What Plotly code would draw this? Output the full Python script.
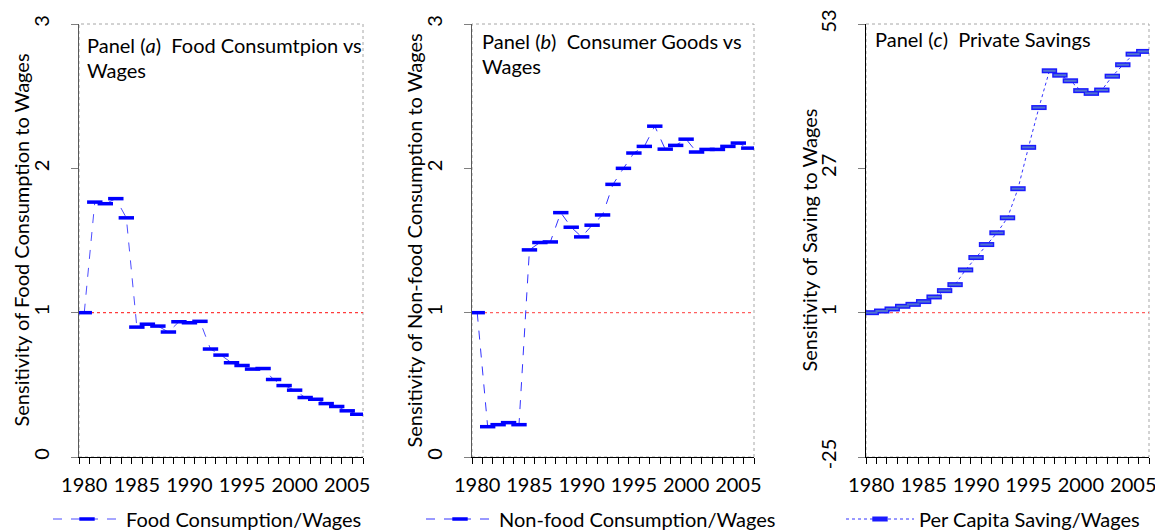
import plotly.graph_objects as go

years = list(range(1980, 2007))
food = [1.00, 1.766, 1.755, 1.79, 1.657, 0.90, 0.92, 0.907, 0.866, 0.937, 0.93, 0.94,
        0.748, 0.706, 0.653, 0.634, 0.609, 0.613, 0.537, 0.495, 0.463, 0.412, 0.40,
        0.37, 0.35, 0.32, 0.296]
nonfood = [1.00, 0.21, 0.224, 0.238, 0.224, 1.435, 1.486, 1.49, 1.693, 1.592, 1.525,
           1.606, 1.677, 1.889, 2.00, 2.106, 2.152, 2.292, 2.133, 2.159, 2.202, 2.113,
           2.131, 2.131, 2.152, 2.175, 2.14]
saving = [1.0, 1.3, 1.67, 2.15, 2.5, 3.0, 3.83, 4.97, 6.05, 8.7, 10.93, 13.27, 15.39,
          18.09, 23.33, 30.78, 37.95, 44.57, 43.78, 42.77, 41.0, 40.5, 41.1, 43.6,
          45.66, 47.57, 48.06]
tick_years = [1980, 1985, 1990, 1995, 2000, 2005]
minor_ticks = [y - 0.5 for y in years] + [years[-1] + 0.5]

FONT = "Lato"
FS = 20
W, H = 1155, 531

doms_x = [(79 / W, 363 / W), (472 / W, 754 / W), (866 / W, 1149 / W)]
dom_y = (74 / H, 507 / H)

fig = go.Figure()

# Panel a
fig.add_trace(go.Scatter(
    x=years, y=food, mode="lines+markers", name="Food Consumption/Wages",
    line=dict(color="#4d4dff", width=1, dash="dash"),
    marker=dict(symbol="line-ew", size=11, line=dict(width=3.5, color="#0000ff")),
    xaxis="x", yaxis="y", legend="legend"))
# Panel b
fig.add_trace(go.Scatter(
    x=years, y=nonfood, mode="lines+markers", name="Non-food Consumption/Wages",
    line=dict(color="#3333ff", width=1, dash="dash"),
    marker=dict(symbol="line-ew", size=11, line=dict(width=3.5, color="#0000ff")),
    xaxis="x2", yaxis="y2", legend="legend2"))
# Panel c
fig.add_trace(go.Scatter(
    x=years, y=saving, mode="lines+markers", name="Per Capita Saving/Wages",
    line=dict(color="#3333ff", width=1, dash="dot"),
    marker=dict(symbol="line-ew", size=11, line=dict(width=5, color="#1a1aff")),
    xaxis="x3", yaxis="y3", legend="legend3"))
fig.add_trace(go.Scatter(
    x=years, y=saving, mode="markers", showlegend=False, hoverinfo="skip",
    marker=dict(symbol="line-ew", size=9, line=dict(width=2, color="#4f72d0")),
    xaxis="x3", yaxis="y3"))

axis_font = dict(family=FONT, size=FS, color="#000000")

def xaxis_cfg(i):
    return dict(
        domain=list(doms_x[i]), anchor=["y", "y2", "y3"][i], automargin=False,
        range=[1979.5, 2006.5], tickmode="array", tickvals=tick_years,
        ticktext=[str(t) for t in tick_years], ticks="", ticklabelstandoff=10,
        ticklabeloverflow="allow",
        showline=True, linecolor="#000000", linewidth=1, showgrid=False, zeroline=False,
        tickfont=axis_font,
        minor=dict(tickvals=minor_ticks, ticks="outside", ticklen=6, tickcolor="#000000",
                   tickwidth=1, showgrid=False),
    )

def yaxis_cfg(i, rng, vals, lc):
    return dict(
        domain=list(dom_y), anchor=["x", "x2", "x3"][i], range=rng, automargin=False,
        tickmode="array", tickvals=vals, ticktext=[str(v) for v in vals],
        ticks="outside", ticklen=7, tickcolor="#7f7f7f", tickangle=-90,
        ticklabelstandoff=14, ticklabeloverflow="allow",
        showline=True, linecolor=lc, linewidth=1.3,
        showgrid=False, zeroline=False, tickfont=axis_font,
    )

fig.update_layout(
    width=W, height=H, margin=dict(l=0, r=0, t=0, b=0, autoexpand=False),
    paper_bgcolor="white", plot_bgcolor="white",
    font=dict(family=FONT, size=FS, color="#000000"),
    xaxis=xaxis_cfg(0), xaxis2=xaxis_cfg(1), xaxis3=xaxis_cfg(2),
    yaxis=yaxis_cfg(0, [0, 3], [0, 1, 2, 3], "#595959"),
    yaxis2=yaxis_cfg(1, [0, 3], [0, 1, 2, 3], "#595959"),
    yaxis3=yaxis_cfg(2, [-25, 53], [-25, 1, 27, 53], "#000000"),
)

leg_common = dict(orientation="h", font=dict(family=FONT, size=FS, color="#000000"),
                  bgcolor="rgba(0,0,0,0)", yanchor="middle", xanchor="left",
                  itemwidth=68, y=12 / H)
fig.update_layout(
    legend=dict(x=48 / W, **leg_common),
    legend2=dict(x=421 / W, **leg_common),
    legend3=dict(x=841 / W, **leg_common),
)

shapes = []
for i, (xr, yr) in enumerate([("x", "y"), ("x2", "y2"), ("x3", "y3")]):
    shapes.append(dict(type="rect", xref=f"{xr} domain", yref=f"{yr} domain",
                       x0=0, x1=1, y0=0, y1=1, layer="below",
                       line=dict(color="#a6a6a6", width=1, dash="dot")))
    shapes.append(dict(type="line", xref=f"{xr} domain", yref=yr, x0=0, x1=1, y0=1, y1=1,
                       layer="below",
                       line=dict(color="#ff3b3b" if i == 0 else "#ff6060", width=1.3, dash="dot")))
fig.update_layout(shapes=shapes)

ann = []
titles = [
    ("Panel (<i>a</i>)  Food Consumtpion vs", 85, 45),
    ("Wages", 85, 70),
    ("Panel (<i>b</i>)  Consumer Goods vs", 480, 41),
    ("Wages", 480, 66),
    ("Panel (<i>c</i>)  Private Savings", 873, 39),
]
for t, px, py in titles:
    ann.append(dict(text=t, x=px / W, y=1 - py / H, xref="paper", yref="paper",
                    xanchor="left", yanchor="middle", showarrow=False,
                    font=dict(family=FONT, size=FS, color="#000000")))
ytitles = [
    ("Sensitivity of Food Consumption to Wages", 21),
    ("Sensitivity of Non-food Consumption to Wages", 414),
    ("Sensitivity of Saving to Wages", 809),
]
for t, px in ytitles:
    ann.append(dict(text=t, x=px / W, y=(dom_y[0] + dom_y[1]) / 2, xref="paper", yref="paper",
                    xanchor="center", yanchor="middle", textangle=-90, showarrow=False,
                    font=dict(family=FONT, size=FS, color="#000000")))
fig.update_layout(annotations=ann)

fig.write_html("out.html", config={"displayModeBar": False},
               post_script="document.body.style.margin='0px';document.body.style.padding='0px';")
